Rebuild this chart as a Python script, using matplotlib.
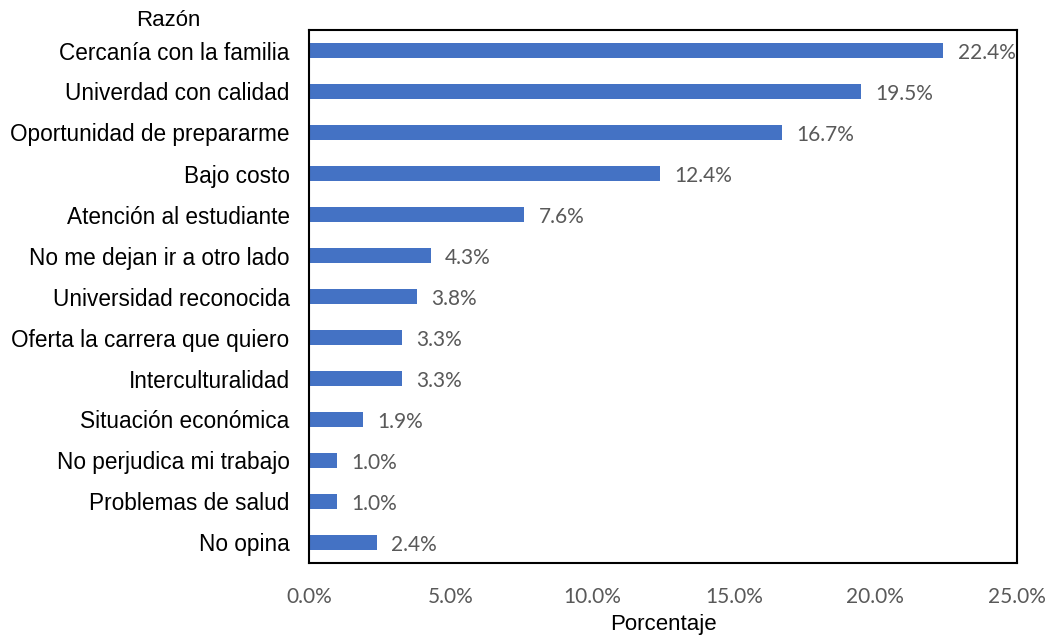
import numpy as np
import matplotlib.pyplot as plt
from matplotlib.ticker import FuncFormatter

razones = ['Cercanía con la familia', 'Univerdad con calidad', 'Oportunidad de prepararme',
           'Bajo costo', 'Atención al estudiante', 'No me dejan ir a otro lado',
           'Universidad reconocida', 'Oferta la carrera que quiero', 'Interculturalidad',
           'Situación económica', 'No perjudica mi trabajo', 'Problemas de salud', 'No opina']
porcentajes = [22.4, 19.5, 16.7, 12.4, 7.6, 4.3, 3.8, 3.3, 3.3, 1.9, 1.0, 1.0, 2.4]
x_ticks = [0, 5, 10, 15, 20, 25]

fig = plt.figure(figsize=(10.45, 6.36), dpi=100)
ax = fig.add_axes([309 / 1045, 1 - 563 / 636, 708 / 1045, 533 / 636])

y = np.arange(len(razones))
ax.barh(y, porcentajes, height=0.37, color='#4472C4')

for yi, v in zip(y, porcentajes):
    ax.text(v + 0.5, yi + 0.05, f'{v:.1f}%', va='center', ha='left',
            fontsize=15, family='Lato', color='#595959')

ax.set_ylim(len(razones) - 0.5, -0.5)
ax.set_xlim(0, 25)
ax.set_yticks(y)
ax.set_yticklabels(razones, fontsize=16.3, family='Liberation Sans', color='black')
ax.set_xticks(x_ticks)
ax.xaxis.set_major_formatter(FuncFormatter(lambda v, p: f'{v:.1f}%'))
for lbl in ax.get_xticklabels():
    lbl.set_family('Lato')
    lbl.set_fontsize(15)
    lbl.set_color('#595959')
ax.tick_params(axis='y', length=0, pad=14)
ax.tick_params(axis='x', length=0, pad=17)

for s in ax.spines.values():
    s.set_linewidth(1.5)
    s.set_color('black')

ax.set_xlabel('Porcentaje', fontsize=16, family='Liberation Sans', labelpad=5)
fig.text(168 / 1045, 1 - 21 / 636, 'Razón', ha='center', va='center',
         fontsize=16, family='Liberation Sans')

fig.savefig('out.png', dpi=100)
